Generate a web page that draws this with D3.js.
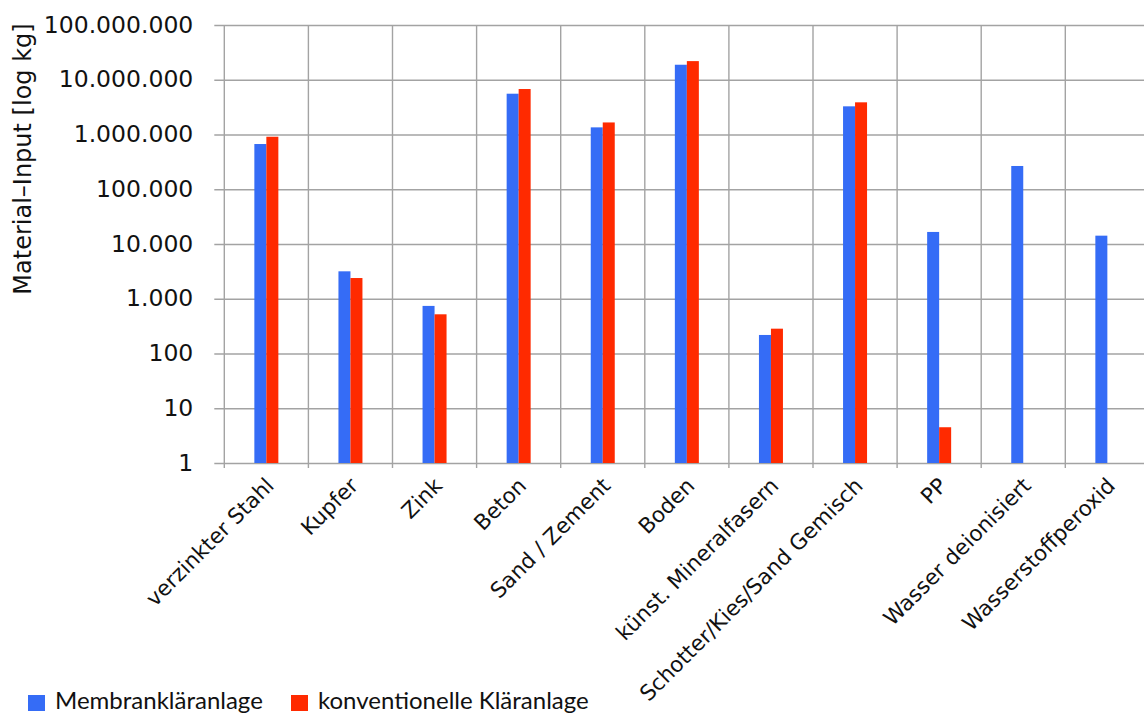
<!DOCTYPE html>
<html>
<head>
<meta charset="utf-8">
<script src="https://cdn.jsdelivr.net/npm/d3@7"></script>
<style>
  html, body { margin: 0; padding: 0; background: #fff; }
  svg { display: block; }
</style>
</head>
<body>
<svg id="chart" width="1144" height="718"></svg>
<script>
// Material input per category, in kg (log scale)
const categories = [
  "verzinkter Stahl", "Kupfer", "Zink", "Beton", "Sand / Zement", "Boden",
  "künst. Mineralfasern", "Schotter/Kies/Sand Gemisch", "PP",
  "Wasser deionisiert", "Wasserstoffperoxid"
];
const seriesNames = ["Membrankläranlage", "konventionelle Kläranlage"];
const membran = [670000, 3170, 740, 5560000, 1350000, 18800000, 218, 3270000, 16600, 266000, 14200];
const konventionell = [910000, 2390, 520, 6770000, 1660000, 21900000, 284, 3870000, 4.5, null, null];
const yTicks = [1, 10, 100, 1000, 10000, 100000, 1000000, 10000000, 100000000];
const yTitle = "Material–Input [log kg]";

const colors = ["#356cf6", "#ff2a00"];
const svg = d3.select("#chart");

const plot = { left: 224.3, top: 25, bottom: 463, step: 84.1 };

const x = d3.scaleBand()
  .domain(categories)
  .range([plot.left, plot.left + plot.step * categories.length])
  .paddingInner(0).paddingOuter(0);

const y = d3.scaleLog()
  .domain([1, 1e8])
  .range([plot.bottom, plot.top]);

const de = d3.formatLocale({ decimal: ",", thousands: ".", grouping: [3], currency: ["", " €"] });
const fmt = de.format(",d");

// Horizontal grid + y tick labels
const yAxis = d3.axisLeft(y)
  .tickValues(yTicks)
  .tickFormat(fmt)
  .tickSize(0)
  .tickPadding(0);

const gy = svg.append("g")
  .attr("transform", `translate(${plot.left - 10},0)`)
  .call(yAxis);
gy.select(".domain").remove();
gy.selectAll(".tick line")
  .attr("x1", 0).attr("x2", 1144)
  .attr("stroke", "#a3a3a3").attr("stroke-width", 1.4);
gy.selectAll(".tick text")
  .attr("x", -21)
  .attr("dy", "0.3em")
  .style("font-family", "'DejaVu Sans', sans-serif")
  .style("font-size", "23.5px")
  .attr("fill", "#111");

// Vertical grid lines at category boundaries
const bounds = categories.map(c => x(c)).concat([x.range()[1]]);
svg.append("g").selectAll("line")
  .data(bounds)
  .join("line")
  .attr("x1", d => d).attr("x2", d => d)
  .attr("y1", plot.top).attr("y2", plot.bottom + 5)
  .attr("stroke", "#a3a3a3").attr("stroke-width", 1.4);

// Bars
const barW = 12;
const series = [membran, konventionell];
series.forEach((vals, si) => {
  svg.append("g").selectAll("rect")
    .data(categories.map((c, i) => ({ c, v: vals[i] })).filter(d => d.v != null))
    .join("rect")
    .attr("x", d => x(d.c) + x.bandwidth() / 2 - barW + si * barW)
    .attr("width", barW)
    .attr("y", d => y(d.v))
    .attr("height", d => y(1) - y(d.v))
    .attr("fill", colors[si]);
});

// Category labels, rotated
svg.append("g").selectAll("text")
  .data(categories)
  .join("text")
  .attr("transform", c => `translate(${x(c) + x.bandwidth() / 2 + 9},${plot.bottom + 24}) rotate(-45)`)
  .attr("text-anchor", "end")
  .style("font-family", "'DejaVu Sans', sans-serif")
  .style("font-size", "21.5px")
  .attr("fill", "#111")
  .text(c => c);

// Y axis title
svg.append("text")
  .attr("transform", `translate(31,${(25 + 293) / 2}) rotate(-90)`)
  .attr("text-anchor", "middle")
  .style("font-family", "'DejaVu Sans', sans-serif")
  .style("font-size", "24px")
  .attr("fill", "#111")
  .text(yTitle);

// Legend
const legendPos = [28, 291];
const lg = svg.append("g").selectAll("g")
  .data(seriesNames)
  .join("g")
  .attr("transform", (d, i) => `translate(${legendPos[i]},695)`);
lg.append("rect")
  .attr("width", 17).attr("height", 16)
  .attr("fill", (d, i) => colors[i]);
lg.append("text")
  .attr("x", 27).attr("y", 14)
  .style("font-family", "Lato, sans-serif")
  .style("font-size", "24px")
  .attr("fill", "#111")
  .text(d => d);
</script>
</body>
</html>
